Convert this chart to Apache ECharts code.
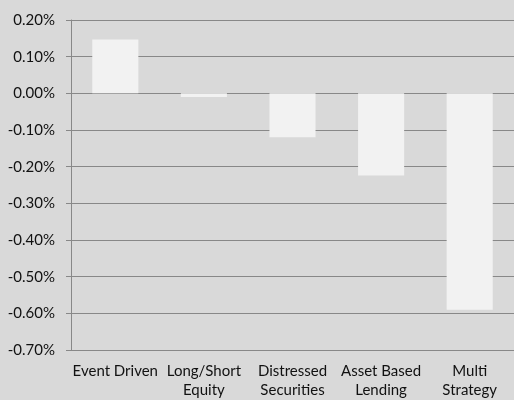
<!DOCTYPE html>
<html>
<head>
<meta charset="utf-8">
<script src="https://cdn.jsdelivr.net/npm/echarts@6/dist/echarts.min.js"></script>
<style>
html,body{margin:0;padding:0;background:#d9d9d9;}
#c{width:514px;height:400px;}
</style>
</head>
<body>
<div id="c"></div>
<script>
const categories = ["Event Driven", "Long/Short\nEquity", "Distressed\nSecurities", "Asset Based\nLending", "Multi\nStrategy"];
const values = [0.147, -0.010, -0.120, -0.224, -0.590];
const yMin = -0.7, yMax = 0.2, yStep = 0.1;

const chart = echarts.init(document.getElementById('c'));
chart.setOption({
  backgroundColor: '#d9d9d9',
  animation: false,
  grid: {left: 71, right: -4, top: 20, bottom: 48, containLabel: false},
  xAxis: {
    type: 'category',
    data: categories,
    axisLine: {show: false},
    axisTick: {show: false},
    axisLabel: {color: '#111111', fontFamily: 'Lato', fontSize: 15, lineHeight: 19, margin: 12, interval: 0}
  },
  yAxis: {
    type: 'value',
    min: yMin, max: yMax, interval: yStep,
    axisLine: {show: true, lineStyle: {color: '#888888', width: 1}},
    axisTick: {show: true, length: 5, lineStyle: {color: '#888888'}},
    splitLine: {show: true, lineStyle: {color: '#888888', width: 1}},
    axisLabel: {color: '#111111', fontFamily: 'Lato', fontSize: 15, margin: 16,
      formatter: v => v.toFixed(2) + '%'}
  },
  series: [{
    type: 'bar',
    data: values,
    barWidth: '52%',
    itemStyle: {color: '#f2f2f2'}
  }]
});
</script>
</body>
</html>
